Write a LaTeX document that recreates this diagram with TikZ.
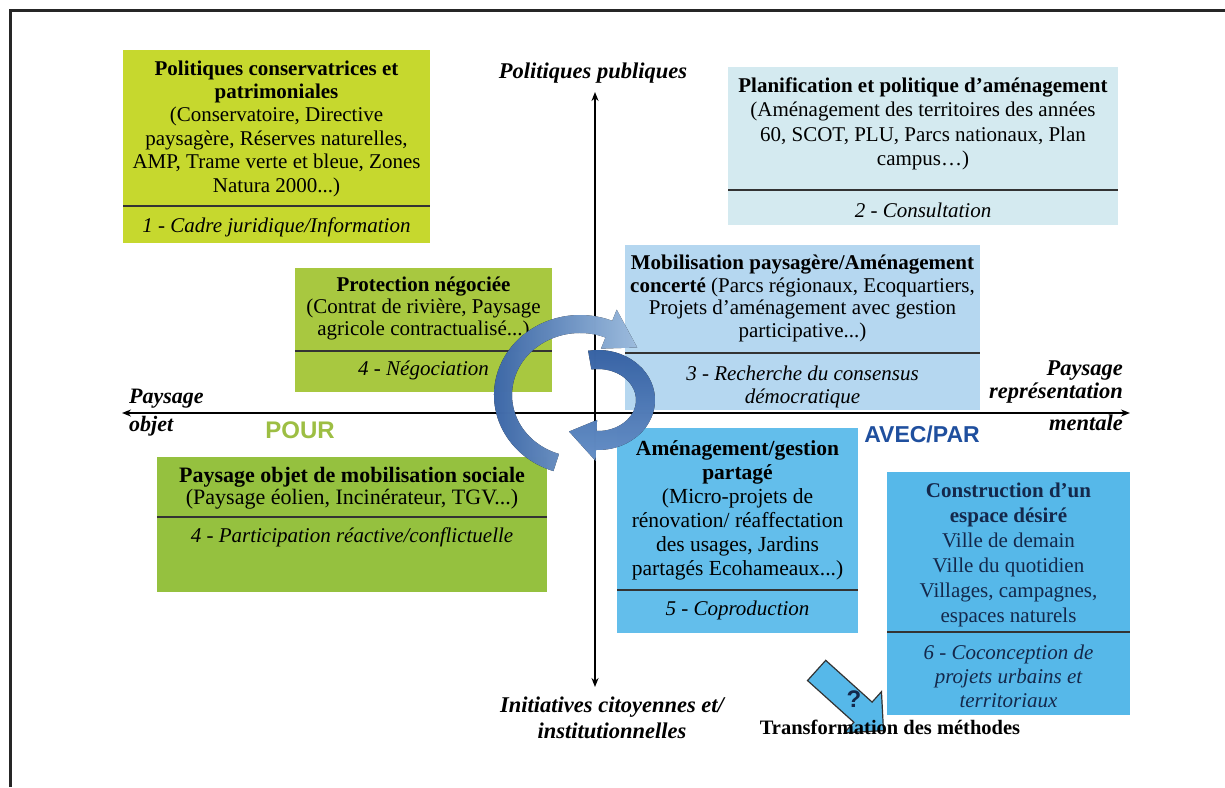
\documentclass[tikz,border=0pt]{standalone}
\usepackage{fontspec}
\setmainfont{Liberation Serif}
\newfontfamily\sansbf{Liberation Sans}
\usetikzlibrary{calc,arrows.meta,shapes.arrows}
\definecolor{cOne}{HTML}{C6D82E}
\definecolor{cTwo}{HTML}{D4EAF0}
\definecolor{cThree}{HTML}{B5D7F0}
\definecolor{cFourA}{HTML}{A8C840}
\definecolor{cFourB}{HTML}{95C13F}
\definecolor{cFive}{HTML}{63BEEB}
\definecolor{cSix}{HTML}{56B8E9}
\definecolor{arrdark}{HTML}{3A69B0}
\definecolor{arrlight}{HTML}{A9CBEF}
\definecolor{arrmid}{HTML}{6E9BD6}
\definecolor{pourgreen}{HTML}{9DBE43}
\definecolor{avecblue}{HTML}{1F4F9E}
\definecolor{navytext}{HTML}{14284B}
\begin{document}
\begin{tikzpicture}[x=1pt,y=-1pt,
  boxbg/.style={rectangle,draw=none,inner sep=0pt,outer sep=0pt,anchor=north west},
  txt/.style={align=center,inner sep=0pt,text=black,font=\fontsize{21}{23.5}\selectfont},
  lab/.style={align=center,inner sep=0pt,text=black,font=\fontsize{21}{23.5}\selectfont\itshape},
  divider/.style={line width=1.8pt,draw=black!80},
  axisline/.style={line width=1.6pt,{Stealth[length=9pt,width=7pt]}-{Stealth[length=9pt,width=7pt]}},
  axlab/.style={inner sep=0pt,font=\fontsize{22.5}{22.5}\selectfont\bfseries\itshape},
  bigword/.style={inner sep=0pt,font=\fontsize{24}{24}\sansbf\bfseries}
]
\useasboundingbox (0,0) rectangle (1225,787);
\fill[white] (0,0) rectangle (1225,787);
% frame
\draw[line width=3pt,black!85] (10,787) -- (10,10) -- (1225,10);

% ---------- boxes ----------
% 1
\node[boxbg,fill=cOne,minimum width=307pt,minimum height=193pt] (b1) at (123,50) {};
\node[txt,font=\fontsize{21}{23.4}\selectfont] (b1t) at (276.5,128.5) {\textbf{Politiques conservatrices et}\\\textbf{patrimoniales}\\(Conservatoire, Directive\\paysagère, Réserves naturelles,\\AMP, Trame verte et bleue, Zones\\Natura 2000...)};
\draw[divider] (123,206) -- (430,206);
\node[lab] (b1l) at (276.5,227) {1 - Cadre juridique/Information};

% 2
\node[boxbg,fill=cTwo,minimum width=390pt,minimum height=158pt] (b2) at (728,67) {};
\node[txt,font=\fontsize{21}{24.5}\selectfont] (b2t) at (923,124) {\textbf{Planification et politique d’aménagement}\\(Aménagement des territoires des années\\60, SCOT, PLU, Parcs nationaux, Plan\\campus…)};
\draw[divider] (728,190) -- (1118,190);
\node[lab] (b2l) at (923,210) {2 - Consultation};

% protection
\node[boxbg,fill=cFourA,minimum width=257pt,minimum height=124pt] (b4a) at (295,268) {};
\node[txt,font=\fontsize{21}{22}\selectfont] (b4at) at (423.5,308) {\textbf{Protection négociée}\\(Contrat de rivière, Paysage\\agricole contractualisé...)};
\draw[divider] (295,351) -- (552,351);
\node[lab] (b4al) at (423.5,370) {4 - Négociation};

% mobilisation
\node[boxbg,fill=cThree,minimum width=355pt,minimum height=165pt] (b3) at (625,245) {};
\node[txt,font=\fontsize{21}{22.5}\selectfont] (b3t) at (802.5,298.5) {\textbf{Mobilisation paysagère/Aménagement}\\\textbf{concerté} (Parcs régionaux, Ecoquartiers,\\Projets d’aménagement avec gestion\\participative...)};
\draw[divider] (625,353) -- (980,353);
\node[lab,font=\fontsize{21}{23}\selectfont\itshape] (b3l) at (802.5,386.5) {3 - Recherche du consensus\\démocratique};

% paysage objet
\node[boxbg,fill=cFourB,minimum width=390pt,minimum height=135pt] (b4b) at (157,457) {};
\node[txt,font=\fontsize{22}{22}\selectfont] (b4bt) at (352,488) {\textbf{Paysage objet de mobilisation sociale}\\(Paysage éolien, Incinérateur, TGV...)};
\draw[divider] (157,517) -- (547,517);
\node[lab,font=\fontsize{21}{22}\selectfont\itshape] (b4bl) at (352,537) {4 - Participation réactive/conflictuelle};

% amenagement / gestion
\node[boxbg,fill=cFive,minimum width=241pt,minimum height=205pt] (b5) at (617,428) {};
\node[txt,font=\fontsize{21.5}{24}\selectfont] (b5t) at (737.5,510) {\textbf{Aménagement/gestion}\\\textbf{partagé}\\(Micro-projets de\\rénovation/ réaffectation\\des usages, Jardins\\partagés Ecohameaux...)};
\draw[divider] (617,590) -- (858,590);
\node[lab] (b5l) at (737.5,610) {5 - Coproduction};

% question arrow (behind box 6)
\node[single arrow,draw=black!80,line width=1.2pt,fill=cSix,rotate=-42,minimum height=90pt,inner sep=13pt,single arrow head extend=14pt] (qa) at (845,696) {};

% construction
\node[boxbg,fill=cSix,minimum width=243pt,minimum height=243pt] (b6) at (887,472) {};
\node[txt,text=navytext,font=\fontsize{21}{25}\selectfont] (b6t) at (1008.5,554.5) {\textbf{Construction d’un}\\\textbf{espace désiré}\\Ville de demain\\Ville du quotidien\\Villages, campagnes,\\espaces naturels};
\draw[divider] (887,632) -- (1130,632);
\node[lab,text=navytext,font=\fontsize{21}{24}\selectfont\itshape] (b6l) at (1008.5,676) {6 - Coconception de\\projets urbains et\\territoriaux};

% ---------- axes ----------
\coordinate (xl) at (122,413);
\coordinate (xr) at (1130,413);
\coordinate (yt) at (595,92);
\coordinate (yb) at (595,687);
\draw[axisline] (xl) -- (xr);
\draw[axisline] (yb) -- (yt);

\node[axlab] (top) at (593,73) {Politiques publiques};
\node[axlab,align=center,font=\fontsize{22.5}{26}\selectfont\bfseries\itshape] (bot) at (612,718) {Initiatives citoyennes et/\\institutionnelles};
\node[axlab,align=left,anchor=west,font=\fontsize{22}{22}\selectfont\bfseries\itshape] (lft) at (129,413) {Paysage\\[6pt]objet};
\node[axlab,align=right,anchor=east,font=\fontsize{22.5}{22.5}\selectfont\bfseries\itshape] (rgt) at (1123,396) {Paysage\\représentation\\[10pt]mentale};

\node[bigword,text=pourgreen] (pour) at (300,430) {POUR};
\node[bigword,text=avecblue,font=\fontsize{23}{23}\sansbf\bfseries] (avec) at (922,434) {AVEC/PAR};

% ---------- cycle arrows ----------
\coordinate (cA) at (580,395);
\coordinate (cB) at (598,400);
\fill[left color=arrdark,right color=arrlight,opacity=.92]
  ($(cA)+(252:86pt and 80pt)$) arc[start angle=252,end angle=68,x radius=86pt,y radius=80pt]
  -- ($(cA)+(68:98pt and 92pt)$) -- ($(cA)+(42:77pt and 71pt)$) -- ($(cA)+(68:56pt and 50pt)$)
  -- ($(cA)+(68:68pt and 62pt)$) arc[start angle=68,end angle=252,x radius=68pt,y radius=62pt] -- cycle;
\fill[top color=arrdark,bottom color=arrmid,opacity=.92]
  ($(cB)+(100:57pt and 50pt)$) arc[start angle=100,end angle=-92,x radius=57pt,y radius=50pt]
  -- ($(cB)+(-92:68pt and 61pt)$) -- ($(cB)+(-128:47pt and 40pt)$) -- ($(cB)+(-92:27pt and 20pt)$)
  -- ($(cB)+(-92:38pt and 31pt)$) arc[start angle=-92,end angle=100,x radius=38pt,y radius=31pt] -- cycle;

% ---------- transformation ----------
\node[inner sep=0pt,font=\fontsize{24}{24}\sansbf\bfseries,text=navytext] (qm) at (854,699) {?};
\node[inner sep=0pt,font=\fontsize{20.5}{20.5}\selectfont\bfseries] (trans) at (890,727) {Transformation des méthodes};
\end{tikzpicture}
\end{document}
